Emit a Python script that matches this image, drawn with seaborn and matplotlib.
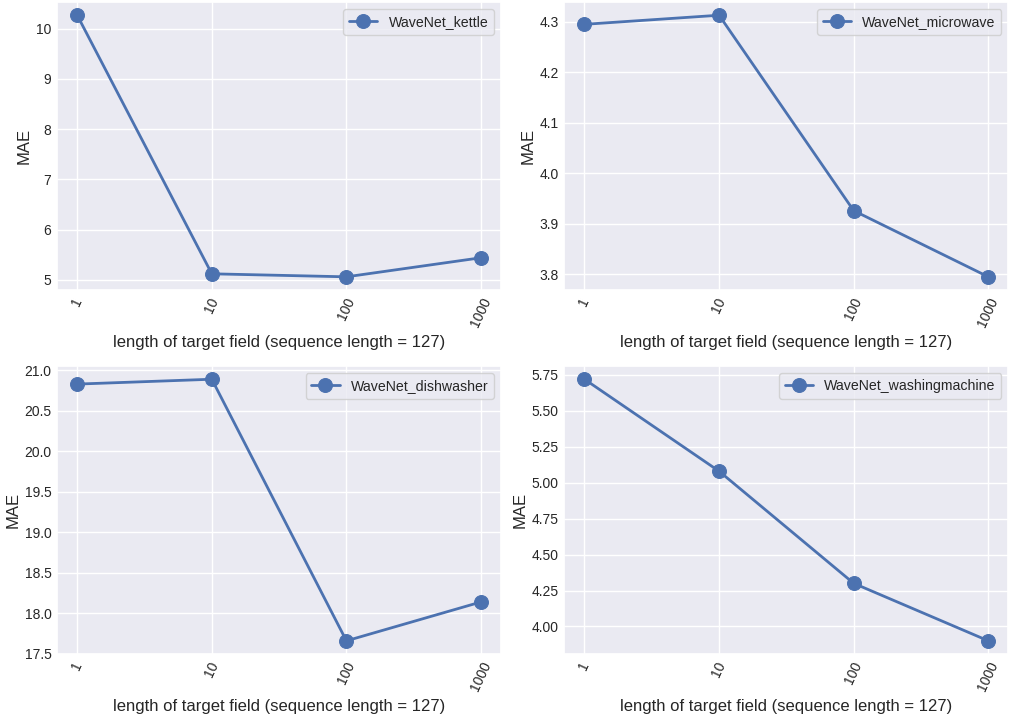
import matplotlib
matplotlib.use("Agg")
import matplotlib.pyplot as plt
import seaborn as sns
import pandas as pd

# ---- data ----
target_lengths = ["1", "10", "100", "1000"]
mae_kettle = [10.27, 5.12, 5.06, 5.44]
mae_microwave = [4.295, 4.313, 3.926, 3.795]
mae_dishwasher = [20.83, 20.89, 17.66, 18.14]
mae_washingmachine = [5.72, 5.08, 4.30, 3.90]

series = [
    ("WaveNet_kettle", mae_kettle),
    ("WaveNet_microwave", mae_microwave),
    ("WaveNet_dishwasher", mae_dishwasher),
    ("WaveNet_washingmachine", mae_washingmachine),
]

sns.set_theme(style="darkgrid")
plt.rcParams['font.family'] = ['Liberation Sans', 'DejaVu Sans']

fig, axs = plt.subplots(2, 2, figsize=(10.09, 7.17), dpi=100)
plt.subplots_adjust(left=0.0565, right=0.9995, bottom=0.088, top=0.997,
                    wspace=0.142, hspace=0.265)

color = sns.color_palette("deep")[0]
for ax, (name, vals) in zip(axs.flat, series):
    df = pd.DataFrame({"x": target_lengths, "MAE": vals})
    sns.lineplot(data=df, x="x", y="MAE", ax=ax, marker="o", markersize=10,
                 linewidth=2, color=color, markeredgecolor=color, label=name, sort=False)
    ax.set_xlabel("length of target field (sequence length = 127)", fontsize=12, labelpad=4)
    ax.set_ylabel("MAE", fontsize=12, labelpad=3)
    ax.tick_params(axis="x", labelrotation=65, labelsize=10, length=0, pad=4)
    ax.tick_params(axis="y", labelsize=10, length=0, pad=4)
    ax.legend(loc="upper right", fontsize=10.2)

fig.savefig("out.png", dpi=100)
